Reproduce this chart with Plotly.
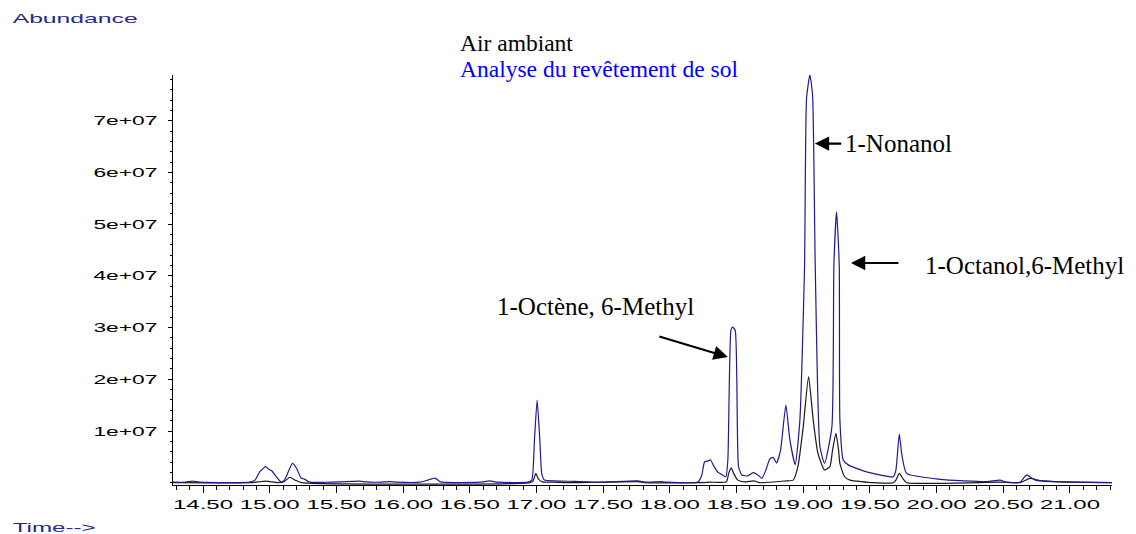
import plotly.graph_objects as go

# ---- data (retention time in min, abundance in millions of counts) ----
time_sol = [14.275, 14.37, 14.42, 14.475, 14.85, 14.89, 14.925, 14.97, 14.99, 15.015, 15.045, 15.085,
            15.11, 15.145, 15.17, 15.20, 15.235, 15.26, 15.30, 15.45, 15.62, 15.675, 15.72, 15.83,
            15.9, 15.95, 16.125, 16.185, 16.24, 16.28, 16.575, 16.65, 16.71, 16.935, 16.965, 16.985,
            17.005, 17.025, 17.04, 17.06, 17.14, 17.29, 17.475, 17.76, 17.82, 17.93, 17.97, 18.21,
            18.24, 18.26, 18.285, 18.305, 18.33, 18.36, 18.395, 18.42, 18.435, 18.458, 18.47, 18.49,
            18.515, 18.54, 18.585, 18.625, 18.66, 18.69, 18.72, 18.75, 18.775, 18.80, 18.83, 18.87,
            18.90, 18.94, 18.975, 19.01, 19.025, 19.05, 19.07, 19.09, 19.125, 19.16, 19.215, 19.23,
            19.25, 19.27, 19.275, 19.30, 19.34, 19.475, 19.675, 19.695, 19.72, 19.74, 19.775, 20.025,
            20.375, 20.475, 20.525, 20.625, 20.675, 20.74, 20.90, 21.315]
abund_sol = [0.1, 0.1, 0.3, 0.1, 0.1, 0.5, 2.1, 3.1, 2.65, 2.3, 1.3, 0.15,
             0.5, 2.45, 3.75, 2.85, 0.9, 0.7, 0.1, 0.1, 0.25, 0.3, 0.15, 0.1,
             0.2, 0.1, 0.1, 0.5, 0.9, 0.15, 0.1, 0.35, 0.1, 0.1, 0.5, 8.3,
             16.0, 8.3, 1.7, 0.5, 0.35, 0.25, 0.1, 0.35, 0.1, 0.2, 0.1, 0.15,
             1.5, 4.0, 4.2, 4.4, 3.2, 2.05, 1.5, 1.15, 4.4, 29.5, 30.1, 29.5,
             3.1, 1.5, 1.3, 1.95, 1.5, 0.85, 2.45, 4.6, 4.9, 3.8, 6.3, 15.0,
             8.3, 3.5, 12.1, 42.1, 74.4, 78.9, 75.0, 42.1, 7.0, 3.75, 10.8, 42.1,
             52.4, 42.1, 12.1, 4.4, 3.4, 2.1, 1.15, 2.45, 9.4, 5.35, 1.8, 0.65,
             0.2, 0.5, 0.1, 0.1, 1.5, 0.5, 0.2, 0.0]

time_air = [14.275, 14.85, 14.91, 14.97, 15.06, 15.105, 15.15, 15.195, 15.24, 16.95, 16.975, 16.995,
            17.015, 17.045, 17.13, 17.29, 17.76, 17.81, 18.225, 18.30, 18.425, 18.44, 18.46, 18.48,
            18.51, 18.56, 18.63, 18.675, 18.87, 18.925, 18.96, 19.0, 19.04, 19.075, 19.11, 19.16,
            19.20, 19.22, 19.245, 19.265, 19.275, 19.31, 19.35, 19.525, 19.675, 19.695, 19.72, 19.75,
            19.775, 20.475, 20.625, 20.70, 20.775, 20.875, 21.315]
abund_air = [0.0, 0.0, 0.15, 0.3, 0.0, 0.15, 1.05, 0.45, 0.0, 0.0, 0.35, 1.8,
             0.7, 0.15, 0.1, 0.0, 0.2, 0.0, 0.0, 0.1, 0.2, 1.7, 2.85, 1.7,
             0.5, 0.15, 0.35, 0.0, 0.35, 0.5, 3.1, 10.8, 20.5, 12.1, 5.7, 2.45,
             3.1, 6.3, 9.55, 6.3, 3.75, 1.15, 0.5, 0.0, 0.0, 0.5, 1.8, 0.7,
             0.0, 0.1, 0.0, 0.85, 0.4, 0.2, 0.0]

x_tick_vals = [14.5, 15.0, 15.5, 16.0, 16.5, 17.0, 17.5, 18.0, 18.5, 19.0, 19.5, 20.0, 20.5, 21.0]
x_tick_text = ["14.50", "15.00", "15.50", "16.00", "16.50", "17.00", "17.50", "18.00", "18.50",
               "19.00", "19.50", "20.00", "20.50", "21.00"]
y_tick_vals = [1e7, 2e7, 3e7, 4e7, 5e7, 6e7, 7e7]
y_tick_text = ["1e+07", "2e+07", "3e+07", "4e+07", "5e+07", "6e+07", "7e+07"]

series_names = ["Air ambiant", "Analyse du revêtement de sol"]
peak_labels = ["1-Nonanol", "1-Octanol,6-Methyl", "1-Octène, 6-Methyl"]
peak_tips_t = [19.087, 19.358, 18.435]
peak_tips_v = [65.6e6, 42.5e6, 24.3e6]

# ---- figure ----
W, H = 1136, 534
L, R, T, B = 173, 24, 75, 49
pw, ph = W - L - R, H - T - B


def px(x):
    return (x - L) / pw


def py(y):
    return (H - B - y) / ph


fig = go.Figure()
fig.add_trace(go.Scatter(x=time_air, y=[v * 1e6 for v in abund_air], mode="lines",
                         line=dict(color="#1a1a1a", width=1.2, shape="spline", smoothing=0.5),
                         name=series_names[0]))
fig.add_trace(go.Scatter(x=time_sol, y=[v * 1e6 for v in abund_sol], mode="lines",
                         line=dict(color="#1c1c8e", width=1.2, shape="spline", smoothing=0.5),
                         name=series_names[1]))

tick_font = dict(family="Liberation Sans, Arial, sans-serif", size=13, color="#000")
fig.update_xaxes(range=[14.275, 21.315], tickmode="array", tickvals=x_tick_vals, ticktext=x_tick_text,
                 ticks="outside", ticklen=7, tickwidth=1, tickcolor="#000",
                 showline=True, linecolor="#000", linewidth=1, showgrid=False, zeroline=False,
                 tickfont=tick_font,
                 minor=dict(tick0=14.5, dtick=0.1, ticks="outside", ticklen=4, tickcolor="#000", showgrid=False))
fig.update_yaxes(range=[-0.445e6, 78.86e6], tickmode="array", tickvals=y_tick_vals, ticktext=y_tick_text,
                 ticks="outside", ticklen=4, tickwidth=1, tickcolor="#000",
                 showline=True, linecolor="#000", linewidth=1, showgrid=False, zeroline=False,
                 tickfont=tick_font, ticklabelstandoff=8,
                 minor=dict(tick0=0, dtick=2e6, ticks="outside", ticklen=2.5, tickcolor="#000", showgrid=False))

serif = "Liberation Serif, Times New Roman, serif"
ann = []
# top-left / bottom-left axis captions
ann.append(dict(text="Abundance", xref="paper", yref="paper", x=px(74.5), y=py(18), xanchor="center",
                yanchor="middle", showarrow=False,
                font=dict(family="Liberation Sans, Arial, sans-serif", size=13.5, color="#1f2a8f")))
ann.append(dict(text="Time-->", xref="paper", yref="paper", x=px(53.5), y=py(527), xanchor="center",
                yanchor="middle", showarrow=False,
                font=dict(family="Liberation Sans, Arial, sans-serif", size=13.5, color="#1f2a8f")))
# legend-like titles
ann.append(dict(text=series_names[0], xref="paper", yref="paper", x=px(458), y=py(43), xanchor="left",
                yanchor="middle", showarrow=False, font=dict(family=serif, size=23.5, color="#000")))
ann.append(dict(text=series_names[1], xref="paper", yref="paper", x=px(458), y=py(69), xanchor="left",
                yanchor="middle", showarrow=False, font=dict(family=serif, size=23.5, color="#0000ff")))
# peak labels
label_pos = [(843, 143), (923, 265), (495, 306)]
for txt, (lx, ly) in zip(peak_labels, label_pos):
    ann.append(dict(text=txt, xref="paper", yref="paper", x=px(lx), y=py(ly), xanchor="left",
                    yanchor="middle", showarrow=False, font=dict(family=serif, size=25, color="#000")))
# arrows
arrow_offsets = [(28, 0), (49, 0), (-70, -21)]
for t, v, (ax, ay) in zip(peak_tips_t, peak_tips_v, arrow_offsets):
    ann.append(dict(text="", x=t, y=v, xref="x", yref="y", ax=ax, ay=ay, axref="pixel", ayref="pixel",
                    showarrow=True, arrowhead=2, arrowsize=1.3, arrowwidth=2.2, arrowcolor="#000"))

fig.update_layout(width=W, height=H, margin=dict(l=L, r=R, t=T, b=B), plot_bgcolor="#fff",
                  paper_bgcolor="#fff", showlegend=False, annotations=ann)

post = """
document.body.style.margin = '0';
document.body.style.padding = '0';
var gd = document.getElementById('{plot_id}');
function fit(sel, w){ gd.querySelectorAll(sel).forEach(function(t){
  t.setAttribute('textLength', w); t.setAttribute('lengthAdjust','spacingAndGlyphs'); }); }
fit('.xtick text', 60); fit('.ytick text', 64);
gd.querySelectorAll('text.annotation-text').forEach(function(t){
  if (t.textContent === 'Abundance') { t.setAttribute('textLength', 125); t.setAttribute('lengthAdjust','spacingAndGlyphs'); }
  if (t.textContent === 'Time-->') { t.setAttribute('textLength', 83); t.setAttribute('lengthAdjust','spacingAndGlyphs'); }
});
"""
fig.write_html("out.html", post_script=post, config={"displayModeBar": False})
